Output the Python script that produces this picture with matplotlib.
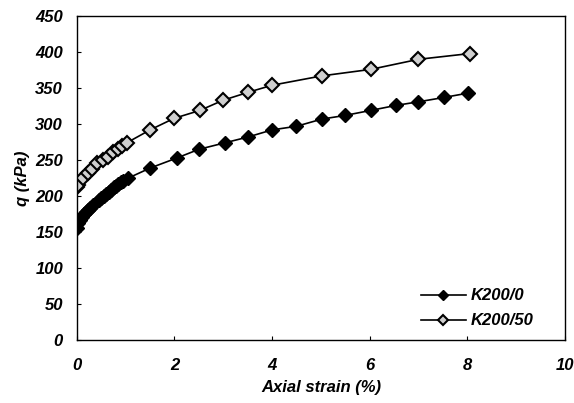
# Curva tensão-deformação: q versus deformação axial para K200/0 e K200/50
import matplotlib.pyplot as plt

plt.rcParams['font.family'] = 'Liberation Sans'

# K200/0 (losangos pretos)
strain_k0 = [0.0, 0.03, 0.06, 0.1, 0.14, 0.18, 0.22, 0.27, 0.33,
             0.45, 0.5, 0.55, 0.6, 0.65, 0.7, 0.75, 0.8, 0.85, 0.9, 0.95, 1.05,
             1.5, 2.05, 2.5, 3.03, 3.5, 4.0, 4.5, 5.02, 5.49, 6.02, 6.54, 7.0, 7.52, 8.01]
q_k0 = [156, 162, 167, 171, 175, 178, 181, 184, 187,
        194, 197, 200, 203, 206, 209, 212, 214, 217, 219, 221, 225,
        239, 253, 265, 274, 282, 292, 297, 307, 312, 319, 326, 331, 337, 343]

# K200/50 (losangos cinza)
strain_k50 = [0.0, 0.02, 0.12, 0.22, 0.3, 0.41, 0.53, 0.64, 0.74, 0.84, 0.93, 1.02,
              1.5, 1.99, 2.52, 2.99, 3.5, 4.0, 5.02, 6.02, 7.0, 8.05]
q_k50 = [213, 216, 225, 232, 238, 246, 250, 254, 261, 266, 270, 274,
         292, 308, 319, 333, 344, 354, 367, 376, 390, 398]

fig = plt.figure(figsize=(5.74, 4.03), dpi=100)
ax = fig.add_axes([0.134, 0.156, 0.850, 0.804])

ax.plot(strain_k0, q_k0, color='black', lw=1.2, marker='D', ms=7,
        mfc='black', mec='black', label='K200/0')
ax.plot(strain_k50, q_k50, color='black', lw=1.2, marker='D', ms=7,
        mfc='#cfcfcf', mec='black', mew=1.5, label='K200/50')

ax.set_xlim(0, 10)
ax.set_ylim(0, 450)
ax.set_xticks([0, 2, 4, 6, 8, 10])
ax.set_yticks(range(0, 451, 50))
ax.tick_params(direction='in', length=3, width=0.8, labelsize=12)
ax.tick_params(axis='x', pad=13)
ax.tick_params(axis='y', pad=10)
for lbl in ax.get_xticklabels() + ax.get_yticklabels():
    lbl.set_fontweight('bold')
    lbl.set_fontstyle('italic')

for s in ax.spines.values():
    s.set_linewidth(1.0)

ax.set_xlabel('Axial strain (%)', fontsize=12, fontweight='bold', fontstyle='italic', labelpad=5)
ax.set_ylabel('q (kPa)', fontsize=12, fontweight='bold', fontstyle='italic', labelpad=4)

leg = ax.legend(loc='lower right', bbox_to_anchor=(0.96, 0.0), frameon=False,
                handlelength=2.7, markerscale=0.8,
                prop={'weight': 'bold', 'style': 'italic', 'size': 12},
                borderaxespad=0.3, labelspacing=0.6, handletextpad=0.3)

fig.savefig('out.png', dpi=100)
